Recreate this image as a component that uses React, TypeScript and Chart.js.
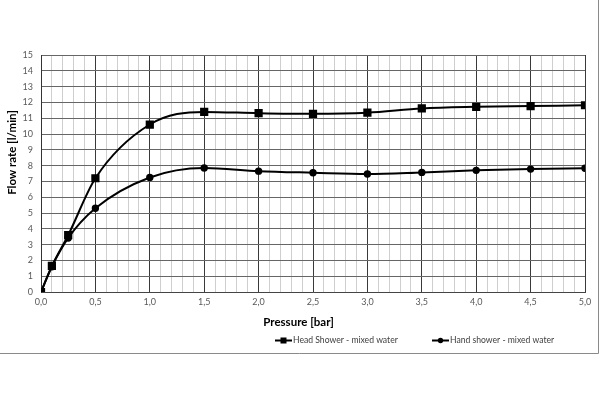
import React, { useEffect, useRef } from "react";
import { Chart, registerables } from "chart.js";

Chart.register(...registerables);

const pressure = [0, 0.1, 0.25, 0.5, 1.0, 1.5, 2.0, 2.5, 3.0, 3.5, 4.0, 4.5, 5.0];
const headShower = [0, 1.65, 3.6, 7.2, 10.6, 11.4, 11.32, 11.28, 11.35, 11.62, 11.72, 11.77, 11.82];
const handShower = [0, 1.6, 3.42, 5.3, 7.25, 7.85, 7.65, 7.55, 7.47, 7.57, 7.7, 7.78, 7.83];
const seriesNames = ["Head Shower - mixed water", "Hand shower - mixed water"];
const xTitle = "Pressure [bar]";
const yTitle = "Flow rate [l/min]";

const FONT = "Lato, 'Liberation Sans', sans-serif";

const decorPlugin = {
  id: "decor",
  afterDraw(chart: any) {
    const ctx = chart.ctx;
    const xs = [275, 432];
    const y = 340.5;
    ctx.save();
    chart.data.datasets.forEach((ds: any, i: number) => {
      const x = xs[i];
      ctx.strokeStyle = ds.borderColor;
      ctx.lineWidth = 2;
      ctx.beginPath();
      ctx.moveTo(x, y);
      ctx.lineTo(x + 17, y);
      ctx.stroke();
      ctx.fillStyle = ds.borderColor;
      if (ds.pointStyle === "rect") {
        ctx.fillRect(x + 5.5, y - 3, 6, 6);
      } else {
        ctx.beginPath();
        ctx.arc(x + 8.5, y, 2.7, 0, Math.PI * 2);
        ctx.fill();
      }
      ctx.fillStyle = "#404040";
      ctx.font = "8.6px " + FONT;
      ctx.textBaseline = "middle";
      ctx.textAlign = "left";
      ctx.fillText(ds.label, x + 18, y);
    });
    // axis titles
    ctx.fillStyle = "#000000";
    ctx.font = "bold 11.5px " + FONT;
    ctx.textAlign = "center";
    ctx.textBaseline = "middle";
    ctx.fillText(xTitle, 298.5, 322);
    ctx.save();
    ctx.translate(12, 152.5);
    ctx.rotate(-Math.PI / 2);
    ctx.fillText(yTitle, 0, 0);
    ctx.restore();
    // frame
    ctx.strokeStyle = "#8a8a8a";
    ctx.lineWidth = 1;
    ctx.beginPath();
    ctx.moveTo(0, 353.5);
    ctx.lineTo(598.5, 353.5);
    ctx.lineTo(598.5, 0);
    ctx.stroke();
    ctx.restore();
  },
};

export default function App() {
  const ref = useRef<HTMLCanvasElement | null>(null);
  useEffect(() => {
    if (!ref.current) return;
    const chart = new Chart(ref.current, {
      type: "line",
      data: {
        datasets: [
          {
            label: seriesNames[0],
            data: pressure.map((p, i) => ({ x: p, y: headShower[i] })),
            borderColor: "#000000",
            backgroundColor: "#000000",
            borderWidth: 2,
            pointStyle: "rect",
            pointRadius: 4.4,
            cubicInterpolationMode: "monotone",
          },
          {
            label: seriesNames[1],
            data: pressure.map((p, i) => ({ x: p, y: handShower[i] })),
            borderColor: "#000000",
            backgroundColor: "#000000",
            borderWidth: 2,
            pointStyle: "circle",
            pointRadius: 2.7,
            cubicInterpolationMode: "monotone",
          },
        ],
      },
      options: {
        responsive: false,
        animation: false,
        layout: { padding: { top: 55, right: 15, bottom: 70, left: 0 } },
        plugins: { legend: { display: false }, tooltip: { enabled: false } },
        scales: {
          x: {
            type: "linear",
            min: 0,
            max: 5,
            afterFit: (s: any) => {
              s.height = 38;
            },
            ticks: {
              stepSize: 0.1,
              autoSkip: false,
              maxRotation: 0,
              padding: 5,
              color: "#595959",
              font: { size: 9, family: FONT },
              callback: (v: any) => {
                const t = Math.round(Number(v) * 10);
                return t % 5 === 0 ? (t / 10).toFixed(1).replace(".", ",") : "";
              },
            },
            grid: {
              drawTicks: false,
              color: (c: any) => {
                const t = Math.round(c.tick.value * 10);
                return t % 5 === 0 ? "#3a3a3a" : "#cfcfcf";
              },
              lineWidth: 1,
            },
            border: { color: "#444444", width: 1 },
          },
          y: {
            min: 0,
            max: 15,
            afterFit: (s: any) => {
              s.width = 41;
            },
            ticks: {
              stepSize: 1,
              padding: 8,
              color: "#595959",
              font: { size: 9, family: FONT },
            },
            grid: { drawTicks: false, color: "#666666", lineWidth: 1 },
            border: { color: "#333333", width: 1 },
          },
        },
      },
      plugins: [decorPlugin],
    } as any);
    return () => chart.destroy();
  }, []);
  return (
    <div style={{ position: "fixed", left: 0, top: 0, width: 600, height: 400, background: "#fff" }}>
      <canvas ref={ref} width={600} height={400} />
    </div>
  );
}
